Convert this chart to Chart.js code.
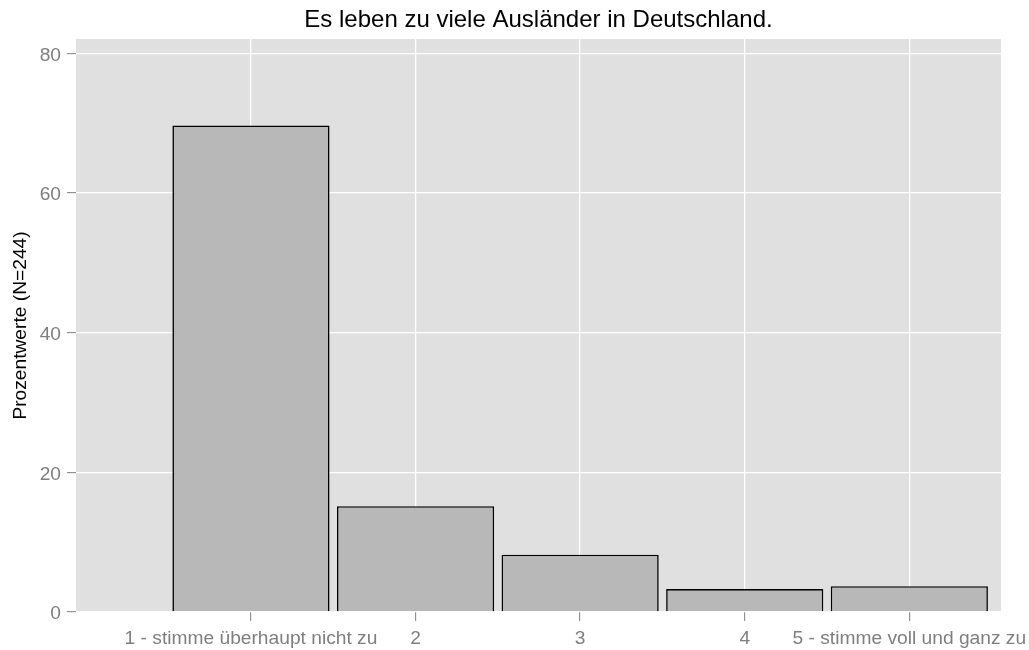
<!DOCTYPE html>
<html>
<head>
<meta charset="utf-8">
<script src="https://cdn.jsdelivr.net/npm/chart.js@4.4.1/dist/chart.umd.min.js"></script>
<style>
  html, body { margin: 0; padding: 0; background: #fff; }
  #wrap { width: 1029px; height: 650px; }
</style>
</head>
<body>
<div id="wrap"><canvas id="chart"></canvas></div>
<script>
// Daten
const categories = ['1 - stimme überhaupt nicht zu', '2', '3', '4', '5 - stimme voll und ganz zu'];
const percentValues = [69.67, 15.16, 8.2, 3.28, 3.69];
const yTicks = [0, 20, 40, 60, 80];

const chartTitle = 'Es leben zu viele Ausländer in Deutschland.';
const yTitle = 'Prozentwerte (N=244)';

// Panel-Hintergrund wie ggplot
const panelBg = {
    id: 'panelBg',
    beforeDraw(chart) {
        const { ctx, chartArea: a } = chart;
        ctx.save();
        ctx.fillStyle = '#E0E0E0';
        ctx.fillRect(a.left, a.top, a.right - a.left, a.bottom - a.top);
        ctx.restore();
    }
};

const fontFamily = '"Liberation Sans", Arial, sans-serif';

new Chart(document.getElementById('chart'), {
    type: 'bar',
    data: {
        datasets: [{
            data: categories.map((c, i) => ({ x: i + 1, y: percentValues[i] })),
            backgroundColor: '#B8B8B8',
            borderColor: '#000',
            borderWidth: 1.6,
            barPercentage: 0.955,
            categoryPercentage: 1
        }]
    },
    options: {
        responsive: true,
        maintainAspectRatio: false,
        animation: false,
        layout: { padding: { left: 0, right: 28, top: 0, bottom: 0 } },
        plugins: {
            legend: { display: false },
            tooltip: { enabled: false },
            title: {
                display: true,
                text: chartTitle,
                fullSize: false,
                color: '#000',
                font: { family: fontFamily, size: 24, weight: 'normal', lineHeight: 1.2 },
                padding: { top: 5.5, bottom: 4.7 }
            }
        },
        scales: {
            x: {
                type: 'linear',
                offset: false,
                min: -0.063,
                max: 5.557,
                afterBuildTicks: (scale) => {
                    scale.ticks = categories.map((c, i) => ({ value: i + 1 }));
                },
                afterFit: (scale) => {
                    scale.height = 38;
                    // Beschriftungen duerfen in den Rand ragen
                    scale.paddingLeft = 0;
                    scale.paddingRight = 0;
                },
                grid: {
                    offset: false,
                    color: '#fff',
                    lineWidth: 1.3,
                    tickColor: '#7F7F7F',
                    tickWidth: 1,
                    tickLength: 9
                },
                border: { display: false },
                ticks: {
                    autoSkip: false,
                    maxRotation: 0,
                    minRotation: 0,
                    padding: 6,
                    color: '#7F7F7F',
                    font: { family: fontFamily, size: 19.2 },
                    callback: (v) => categories[v - 1]
                }
            },
            y: {
                min: 0,
                max: 82.05,
                afterBuildTicks: (scale) => {
                    scale.ticks = yTicks.map(v => ({ value: v }));
                },
                afterFit: (scale) => {
                    scale.width = 76;
                    scale.paddingTop = 0;
                    scale.paddingBottom = 0;
                },
                grid: {
                    color: '#fff',
                    lineWidth: 1.3,
                    tickColor: '#7F7F7F',
                    tickWidth: 1,
                    tickLength: 9
                },
                border: { display: false },
                ticks: {
                    padding: 6,
                    labelOffset: 2,
                    color: '#7F7F7F',
                    font: { family: fontFamily, size: 19.2 }
                },
                title: {
                    display: true,
                    text: yTitle,
                    color: '#000',
                    font: { family: fontFamily, size: 19.2, lineHeight: 1.2 },
                    padding: { top: 9, bottom: 0 }
                }
            }
        }
    },
    plugins: [panelBg]
});
</script>
</body>
</html>
